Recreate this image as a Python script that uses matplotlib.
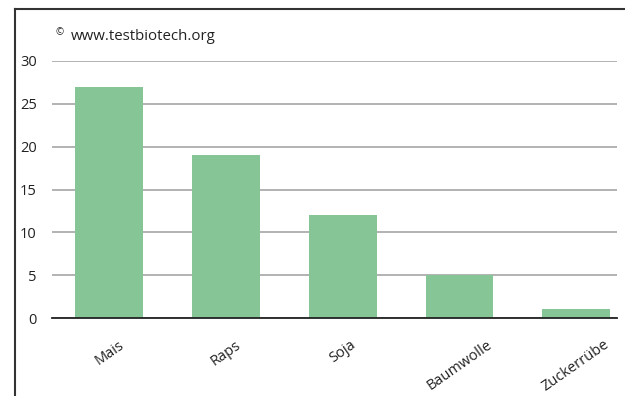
import matplotlib.pyplot as plt
from matplotlib.lines import Line2D

plt.rcParams['font.family'] = ['Open Sans', 'DejaVu Sans']

crops = ["Mais", "Raps", "Soja", "Baumwolle", "Zuckerrübe"]
values = [27, 19, 12, 5, 1]
yticks = [0, 5, 10, 15, 20, 25, 30]

fig = plt.figure(figsize=(6.25, 3.96), dpi=100)
ax = fig.add_axes([52/625, 1 - 318/396, (617 - 52)/625, (318 - 61)/396])

x = list(range(len(crops)))
ax.bar(x, values, width=0.58, color="#86C596", zorder=2)

ax.set_ylim(0, 30)
ax.set_xlim(-0.49, 4.35)
ax.set_yticks(yticks)
ax.set_xticks(x)
ax.set_xticklabels(crops, rotation=35, ha="center", fontsize=10.5, color="#222222")
ax.tick_params(axis="y", length=0, pad=11, labelsize=10.5, labelcolor="#222222")
ax.tick_params(axis="x", length=0, pad=14)
ax.yaxis.grid(True, color="#a6a6a6", linewidth=1.2, zorder=0)
for s in ["top", "right", "left"]:
    ax.spines[s].set_visible(False)
ax.spines["bottom"].set_color("#222222")
ax.spines["bottom"].set_linewidth(1.3)
ax.spines["bottom"].set_zorder(3)

fig.text(56/625, 1 - 33/396, "©", fontsize=7, color="#222222", va="center")
fig.text(71/625, 1 - 37/396, "www.testbiotech.org", fontsize=10.8, color="#222222", va="center")

# outer frame (left and top only)
fig.add_artist(Line2D([15/625, 15/625], [0, 1 - 9/396], color="#333333", linewidth=1.5))
fig.add_artist(Line2D([15/625, 1], [1 - 9/396, 1 - 9/396], color="#333333", linewidth=1.5))

fig.savefig("out.png", dpi=100)
